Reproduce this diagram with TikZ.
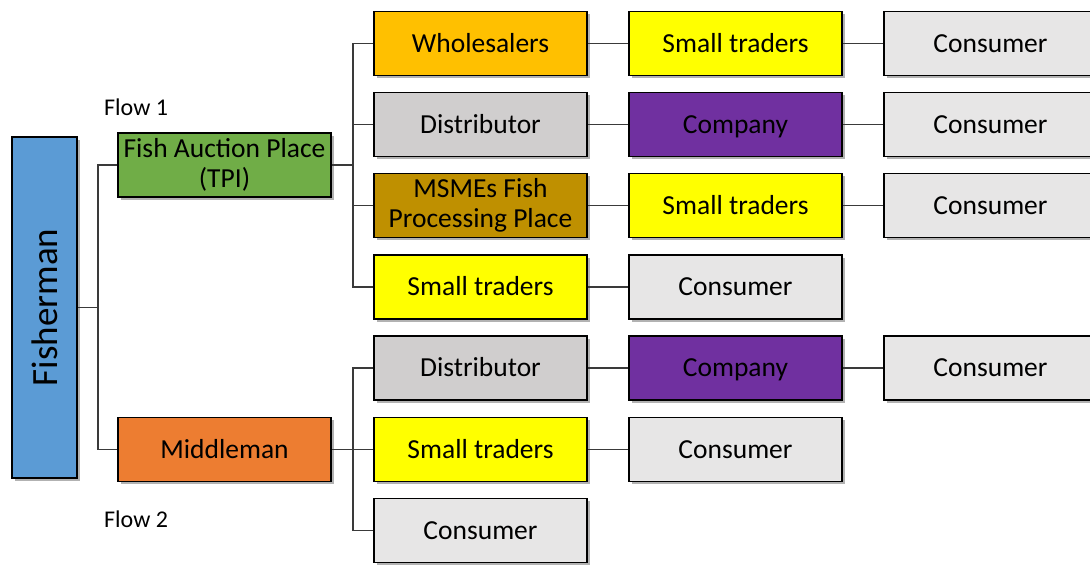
\documentclass[tikz,border=0pt]{standalone}
\usepackage{fontspec}
\setmainfont{Carlito}
\usetikzlibrary{shadows}

\definecolor{cFisher}{HTML}{5B9BD5}
\definecolor{cTPI}{HTML}{70AD47}
\definecolor{cMiddle}{HTML}{ED7D31}
\definecolor{cWhole}{HTML}{FFC000}
\definecolor{cDist}{HTML}{D0CECE}
\definecolor{cComp}{HTML}{7030A0}
\definecolor{cMSME}{HTML}{BF9000}
\definecolor{cSmall}{HTML}{FFFF00}
\definecolor{cCons}{HTML}{E7E6E6}
\definecolor{cLine}{HTML}{3A3A3A}

\tikzset{
  box/.style={draw=black, line width=1.8pt, minimum width=213pt, minimum height=64pt,
    inner sep=0pt, align=center, font=\fontsize{27.5}{30}\selectfont,
    text height=22pt, text depth=4.5pt,
    drop shadow={shadow xshift=2.5pt, shadow yshift=-2.5pt, fill=black, opacity=0.3}},
  twoline/.style={text height={}, text depth={}},
  link/.style={draw=cLine, line width=1.3pt},
  flowlabel/.style={anchor=west, inner sep=0pt, font=\fontsize{24}{28}\selectfont}
}

\begin{document}
\begin{tikzpicture}[x=1pt, y=-1pt]
  \useasboundingbox (0,0) rectangle (1090,565);
  \fill[white] (0,0) rectangle (1090,565);

  % producer and first-level channels
  \node[box, twoline, fill=cFisher, minimum width=65pt, minimum height=341pt] (fish) at (44.5,307.5)
    {\rotatebox{90}{\fontsize{37}{40}\selectfont Fisherman}};
  \node[box, twoline, fill=cTPI] (tpi) at (224.5,165) {Fish Auction Place\\(TPI)};
  \node[box, fill=cMiddle] (mid) at (224.5,449.5) {Middleman};

  \node[flowlabel] (flow1) at (104,107) {Flow 1};
  \node[flowlabel] (flow2) at (104,519) {Flow 2};

  % second column
  \node[box, fill=cWhole] (whole) at (480.5,43.5) {Wholesalers};
  \node[box, fill=cDist] (dist1) at (480.5,124.5) {Distributor};
  \node[box, twoline, fill=cMSME] (msme) at (480.5,205.5) {MSMEs Fish\\Processing Place};
  \node[box, fill=cSmall] (st1) at (480.5,287) {Small traders};
  \node[box, fill=cDist] (dist2) at (480.5,368) {Distributor};
  \node[box, fill=cSmall] (st2) at (480.5,449.5) {Small traders};
  \node[box, fill=cCons] (cons1) at (480.5,530.5) {Consumer};

  % third column
  \node[box, fill=cSmall] (st3) at (735.5,43.5) {Small traders};
  \node[box, fill=cComp] (comp1) at (735.5,124.5) {Company};
  \node[box, fill=cSmall] (st4) at (735.5,205.5) {Small traders};
  \node[box, fill=cCons] (cons2) at (735.5,287) {Consumer};
  \node[box, fill=cComp] (comp2) at (735.5,368) {Company};
  \node[box, fill=cCons] (cons3) at (735.5,449.5) {Consumer};

  % fourth column
  \node[box, fill=cCons] (cons4) at (990.5,43.5) {Consumer};
  \node[box, fill=cCons] (cons5) at (990.5,124.5) {Consumer};
  \node[box, fill=cCons] (cons6) at (990.5,205.5) {Consumer};
  \node[box, fill=cCons] (cons7) at (990.5,368) {Consumer};

  % tree connectors
  \draw[link] (fish.east) -- ++(20,0) |- (tpi.west);
  \draw[link] (fish.east) -- ++(20,0) |- (mid.west);

  \foreach \n in {whole,dist1,msme,st1}
    \draw[link] (tpi.east) -- ++(21,0) |- (\n.west);
  \foreach \n in {dist2,st2,cons1}
    \draw[link] (mid.east) -- ++(21,0) |- (\n.west);

  \draw[link] (whole.east) -- (st3.west);
  \draw[link] (dist1.east) -- (comp1.west);
  \draw[link] (msme.east) -- (st4.west);
  \draw[link] (st1.east) -- (cons2.west);
  \draw[link] (dist2.east) -- (comp2.west);
  \draw[link] (st2.east) -- (cons3.west);

  \draw[link] (st3.east) -- (cons4.west);
  \draw[link] (comp1.east) -- (cons5.west);
  \draw[link] (st4.east) -- (cons6.west);
  \draw[link] (comp2.east) -- (cons7.west);
\end{tikzpicture}
\end{document}
